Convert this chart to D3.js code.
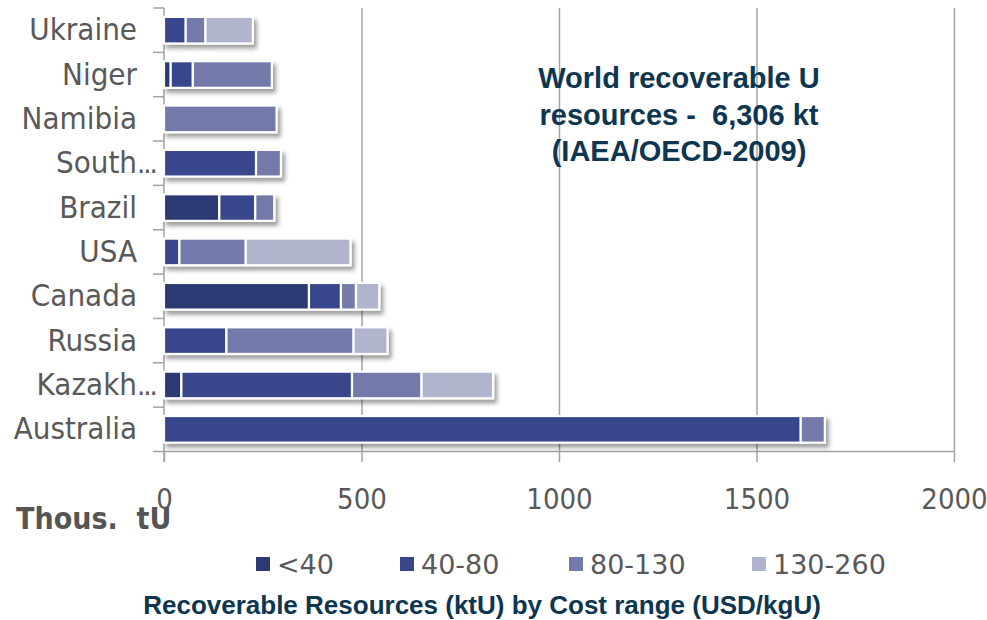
<!DOCTYPE html>
<html>
<head>
<meta charset="utf-8">
<script src="https://cdn.jsdelivr.net/npm/d3@7/dist/d3.min.js"></script>
<style>
  html, body { margin: 0; padding: 0; background: #fff; }
  svg { display: block; }
</style>
</head>
<body>
<svg id="chart" width="987" height="620"></svg>
<script>
// Countries, top to bottom
const categories = ["Ukraine", "Niger", "Namibia", "South...", "Brazil", "USA", "Canada", "Russia", "Kazakh...", "Australia"];
// Cost ranges (USD/kgU)
const costRanges = ["<40", "40-80", "80-130", "130-260"];
// Recoverable resources, thousand tU, per cost range
const below40   = [0,   17,  0,   0,   140, 0,   367, 0,   44,  0];
const from40to80  = [55,  56,  0,   233, 91,  39,  81,  158, 432, 1612];
const from80to130 = [50,  200, 285, 63,  48,  168, 38,  322, 176, 61];
const from130to260 = [120, 0,   0,   0,   0,   265, 59,  86,  181, 0];
const xTicks = [0, 500, 1000, 1500, 2000];
const colors = ["#2c3a73", "#38478b", "#737aaa", "#b1b4cd"];

const svg = d3.select("#chart");
const x = d3.scaleLinear().domain([0, 2000]).range([164, 954]);
const y = d3.scaleBand().domain(categories).range([8, 451.5]).paddingInner(0.4).paddingOuter(0.2);
const color = d3.scaleOrdinal().domain(costRanges).range(colors);

const axisGrey = "#a3a3a3";
const textGrey = "#595959";
const condensed = "'DejaVu Sans Condensed', 'DejaVu Sans', sans-serif";

// drop shadow under the bars
const defs = svg.append("defs");
const f = defs.append("filter").attr("id", "shadow").attr("x", "-5%").attr("y", "-30%").attr("width", "115%").attr("height", "180%");
f.append("feDropShadow").attr("dx", 3).attr("dy", 4).attr("stdDeviation", 2)
  .attr("flood-color", "#000").attr("flood-opacity", 0.38);

// vertical gridlines + bottom tick labels
const xAxis = d3.axisBottom(x).tickValues(xTicks).tickFormat(d3.format("d"))
  .tickSizeInner(-(462 - 8)).tickSizeOuter(0).tickPadding(26);
const gx = svg.append("g").attr("transform", "translate(0,462)").call(xAxis);
gx.select(".domain").remove();
gx.selectAll(".tick line").attr("stroke", axisGrey).attr("stroke-width", 1.5);
gx.selectAll(".tick").filter(d => d === 0).select("line").attr("y2", -10);
gx.selectAll(".tick text")
  .attr("fill", textGrey)
  .style("font-family", condensed)
  .style("font-stretch", "condensed")
  .style("font-size", "29px");

// axis lines
svg.append("line").attr("x1", x(0)).attr("x2", x(2000)).attr("y1", 451.5).attr("y2", 451.5)
  .attr("stroke", axisGrey).attr("stroke-width", 1.5);
svg.append("line").attr("x1", x(0)).attr("x2", x(0)).attr("y1", 8).attr("y2", 462)
  .attr("stroke", axisGrey).attr("stroke-width", 1.5);

// category boundary ticks on the left axis
const step = y.step();
const bounds = d3.range(categories.length + 1).map(i => y.range()[0] + i * step);
svg.append("g").selectAll("line").data(bounds).join("line")
  .attr("x1", x(0) - 11).attr("x2", x(0)).attr("y1", d => d).attr("y2", d => d)
  .attr("stroke", axisGrey).attr("stroke-width", 1.5);

// stacked bars
const rows = categories.map((c, i) => ({
  country: c,
  "<40": below40[i], "40-80": from40to80[i], "80-130": from80to130[i], "130-260": from130to260[i]
}));
const stacked = d3.stack().keys(costRanges)(rows);

const barGroups = svg.append("g").selectAll("g.bar").data(rows).join("g")
  .attr("class", "bar").attr("filter", "url(#shadow)");
barGroups.each(function (row, i) {
  const segs = stacked.map(s => ({ key: s.key, v0: s[i][0], v1: s[i][1] })).filter(s => s.v1 > s.v0);
  d3.select(this).selectAll("rect").data(segs).join("rect")
    .attr("x", s => x(s.v0))
    .attr("width", s => x(s.v1) - x(s.v0))
    .attr("y", y(row.country))
    .attr("height", y.bandwidth())
    .attr("fill", s => color(s.key))
    .attr("stroke", "#fff")
    .attr("stroke-width", 2.2);
});

// category labels (truncated names keep their dots past the right edge)
const labelRight = 137;
const labels = svg.append("g");
categories.forEach(c => {
  const cy = y(c) + y.bandwidth() / 2 + 10;
  const t = labels.append("text")
    .attr("y", cy)
    .attr("fill", textGrey)
    .style("font-family", condensed)
    .style("font-stretch", "condensed")
    .style("font-size", "31px");
  if (c.endsWith("...")) {
    const base = c.slice(0, -3);
    t.attr("x", labelRight).attr("text-anchor", "start");
    const b = t.append("tspan").text(base);
    const w = b.node().getComputedTextLength();
    b.attr("x", labelRight - w);
    t.append("tspan").attr("letter-spacing", "-2px").style("font-size", "29px").text("...");
  } else {
    t.attr("x", labelRight).attr("text-anchor", "end").text(c);
  }
});

// unit label
svg.append("text").attr("x", 16).attr("y", 529)
  .attr("fill", "#555")
  .style("font-family", condensed).style("font-stretch", "condensed")
  .style("font-weight", "bold").style("font-size", "30px")
  .attr("xml:space", "preserve")
  .text("Thous.  tU");

// legend
const legendX = [256, 400, 569, 752];
const legend = svg.append("g").selectAll("g").data(costRanges).join("g")
  .attr("transform", (d, i) => `translate(${legendX[i]},0)`);
legend.append("rect").attr("x", 0).attr("y", 557).attr("width", 14).attr("height", 14)
  .attr("fill", d => color(d));
legend.append("text").attr("x", 21).attr("y", 574)
  .attr("fill", textGrey)
  .style("font-family", "'DejaVu Sans', sans-serif").style("font-size", "27px")
  .text(d => d);

// caption
svg.append("text").attr("x", 482).attr("y", 614).attr("text-anchor", "middle")
  .attr("fill", "#0e3650")
  .style("font-family", "'Liberation Sans', Arial, sans-serif").style("font-weight", "bold").style("font-size", "26px")
  .text("Recoverable Resources (ktU) by Cost range (USD/kgU)");

// annotation
const note = ["World recoverable U", "resources -  6,306 kt", "(IAEA/OECD-2009)"];
svg.append("g").selectAll("text").data(note).join("text")
  .attr("x", 679).attr("y", (d, i) => 88 + i * 36.5).attr("text-anchor", "middle")
  .attr("xml:space", "preserve")
  .attr("fill", "#0e3650")
  .style("font-family", "'Liberation Sans', Arial, sans-serif").style("font-weight", "bold").style("font-size", "29px")
  .text(d => d);
</script>
</body>
</html>
